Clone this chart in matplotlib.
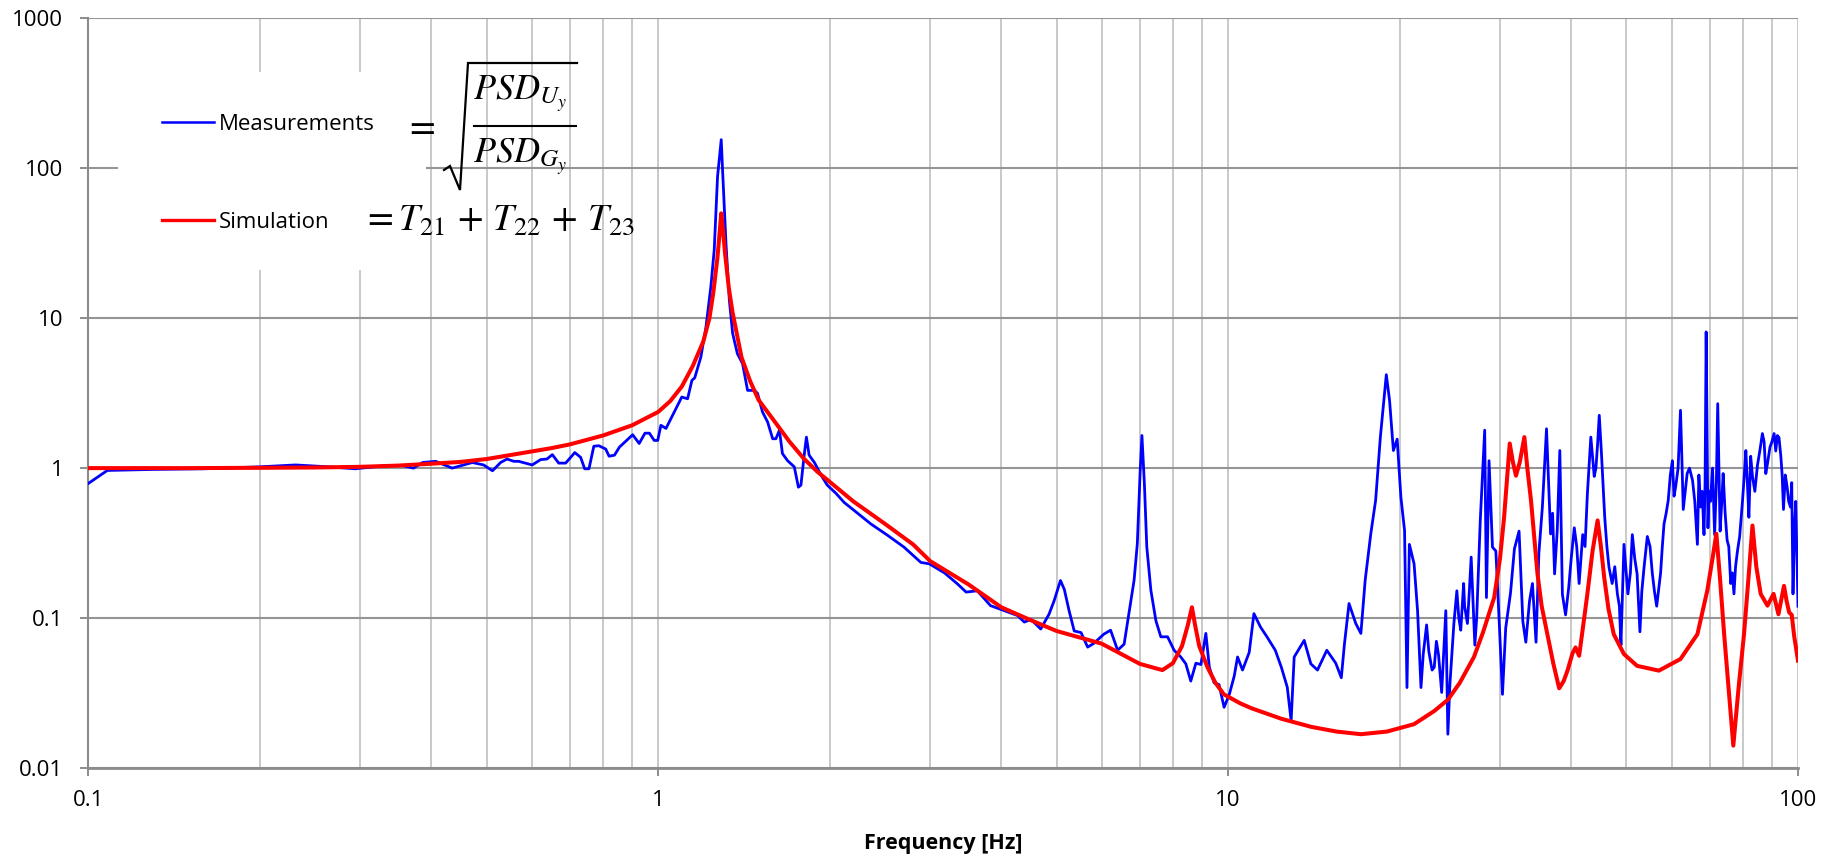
import matplotlib
matplotlib.use("Agg")
import matplotlib.pyplot as plt
from matplotlib.lines import Line2D
from matplotlib.patches import Rectangle
from matplotlib.ticker import FixedLocator, FixedFormatter, NullLocator, NullFormatter

plt.rcParams['font.family'] = ['Open Sans', 'DejaVu Sans']
plt.rcParams['mathtext.fontset'] = 'stix'

# ---------------- data ----------------
sim_freq = [0.1, 0.15, 0.2, 0.25, 0.3, 0.35, 0.4, 0.45, 0.5, 0.57, 0.65, 0.7, 0.8, 0.9,
            1.0, 1.05, 1.1, 1.15, 1.2, 1.23, 1.25, 1.27, 1.28, 1.29, 1.30, 1.31, 1.33,
            1.35, 1.4, 1.45, 1.5, 1.6, 1.7, 1.8, 1.9, 2.0, 2.2, 2.5, 2.8, 3.0, 3.5, 4.0,
            4.5, 5.0, 6.0, 7.0, 7.5, 7.67, 8.0, 8.3, 8.5, 8.64, 8.75, 8.9, 9.2, 9.5, 9.83,
            10.5, 11.0, 12.4, 14.0, 15.5, 17.1, 19.0, 21.2, 23.0, 24.3, 25.5, 27.0, 28.0,
            29.3, 30.0, 30.5, 31.2, 31.6, 32.0, 32.5, 33.1, 33.5, 34.0, 34.9, 35.5, 36.3,
            37.2, 38.1, 38.8, 39.4, 40.2, 40.7, 41.3, 42.0, 42.7, 43.6, 44.5, 45.1, 45.7,
            46.5, 47.5, 49.5, 52.2, 57.0, 62.2, 66.6, 69.3, 70.8, 71.9, 73.0, 74.2, 75.5,
            77.0, 78.7, 80.4, 82.0, 83.2, 84.5, 86.0, 88.4, 90.6, 92.4, 94.5, 95.5, 96.5,
            97.5, 98.5, 100.0]
sim_val = [1.0, 1.0, 1.005, 1.01, 1.02, 1.04, 1.07, 1.1, 1.15, 1.25, 1.36, 1.44, 1.65, 1.93,
           2.37, 2.8, 3.5, 4.8, 7.0, 10.0, 15.0, 25.0, 35.0, 50.0, 38.0, 27.0, 16.0,
           11.0, 5.5, 3.8, 2.85, 2.05, 1.5, 1.16, 0.95, 0.81, 0.6, 0.425, 0.31, 0.24, 0.168, 0.118,
           0.097, 0.082, 0.0675, 0.0495, 0.046, 0.045, 0.05, 0.065, 0.09, 0.118, 0.09, 0.065, 0.047, 0.037, 0.031,
           0.027, 0.025, 0.0213, 0.0188, 0.0175, 0.0168, 0.0175, 0.0196, 0.024, 0.0285, 0.037, 0.055, 0.08,
           0.137, 0.25, 0.47, 1.46, 1.1, 0.89, 1.1, 1.61, 1.0, 0.61, 0.198, 0.12, 0.079,
           0.05, 0.034, 0.038, 0.0446, 0.058, 0.0637, 0.056, 0.09, 0.145, 0.28, 0.448, 0.3, 0.187,
           0.115, 0.078, 0.0575, 0.048, 0.0446, 0.0533, 0.078, 0.152, 0.25, 0.365, 0.18, 0.078, 0.035,
           0.0141, 0.035, 0.078, 0.2, 0.414, 0.22, 0.145, 0.121, 0.145, 0.106, 0.164, 0.13, 0.109,
           0.105, 0.075, 0.052]

meas_freq = [0.100, 0.108, 0.13, 0.16, 0.2, 0.231, 0.264, 0.294, 0.333, 0.356, 0.372, 0.386,
             0.407, 0.435, 0.472, 0.494, 0.512, 0.529, 0.543, 0.558, 0.569, 0.601, 0.622, 0.638,
             0.652, 0.669, 0.688, 0.714, 0.731, 0.743, 0.756, 0.771, 0.787, 0.809, 0.82, 0.838,
             0.855, 0.902, 0.926, 0.948, 0.965, 0.984, 0.998, 1.011, 1.032, 1.06, 1.10, 1.126,
             1.146, 1.159, 1.188, 1.213, 1.237, 1.254, 1.271, 1.29, 1.297, 1.315, 1.333, 1.351,
             1.377, 1.406, 1.435, 1.475, 1.494, 1.524, 1.556, 1.588, 1.609, 1.632, 1.652, 1.687,
             1.733, 1.762, 1.78, 1.805, 1.82, 1.84, 1.88, 1.93, 1.98, 2.05, 2.12, 2.21, 2.36,
             2.53, 2.70, 2.89, 2.99, 3.18, 3.35, 3.47, 3.63, 3.83, 4.05, 4.27, 4.39, 4.51, 4.69,
             4.85, 4.95, 5.08, 5.16, 5.26, 5.37, 5.52, 5.67, 5.82, 6.05, 6.22, 6.4, 6.57, 6.71,
             6.84, 6.93, 7.01, 7.06, 7.13, 7.2, 7.32, 7.47, 7.62, 7.83, 8.04, 8.26, 8.43, 8.6,
             8.78, 8.96, 9.14, 9.27, 9.45, 9.64, 9.84, 10.05, 10.25, 10.39, 10.6, 10.89, 11.1,
             11.4, 11.7, 12.1, 12.4, 12.7, 12.9, 13.06, 13.6, 13.97, 14.35, 14.9, 15.45, 15.8,
             16.0, 16.3, 16.75, 17.1, 17.4, 17.8, 18.15, 18.5, 18.95, 19.2, 19.5, 19.8, 20.1,
             20.4, 20.6, 20.8, 21.2, 21.5, 21.8, 22.0, 22.3, 22.5, 22.8, 23.0, 23.2, 23.4, 23.7,
             24.1, 24.3, 24.5, 24.9, 25.2, 25.4, 25.6, 25.9, 26.0, 26.3, 26.5, 26.7, 27.1, 27.3,
             27.5, 27.7, 28.2, 28.4, 28.7, 29.1, 29.5, 29.9, 30.3, 30.7, 31.3, 31.8, 32.4, 32.9,
             33.3, 33.8, 34.2, 34.7, 35.1, 35.6, 36.2, 36.5, 36.8, 37.1, 37.4, 37.8, 38.2, 38.6,
             39.1, 39.6, 40.0, 40.5, 40.9, 41.3, 41.9, 42.3, 42.7, 43.3, 43.9, 44.2, 44.5, 44.8,
             45.2, 45.8, 46.2, 46.6, 47.2, 47.7, 48.2, 48.6, 48.9, 49.5, 50.3, 50.8, 51.2, 51.7,
             52.2, 52.8, 53.2, 53.7, 54.4, 55.0, 55.5, 56.0, 56.5, 57.4, 57.8, 58.2, 58.7, 59.2,
             59.7, 60.2, 60.6, 61.0, 61.6, 62.2, 62.5, 62.9, 63.4, 63.9, 64.5, 65.3, 65.9, 66.6,
             67.0, 67.5, 67.9, 68.4, 68.7, 69.0, 69.5, 69.8, 70.2, 70.8, 71.4, 71.9, 72.3, 72.7,
             73.0, 73.5, 73.9, 74.5, 75.1, 75.6, 76.2, 76.7, 77.2, 77.7, 78.3, 79.0, 79.9, 80.5,
             81.0, 81.5, 82.0, 82.6, 83.2, 84.0, 84.9, 85.7, 86.6, 87.2, 87.8, 88.5, 89.3, 90.0,
             90.8, 91.4, 92.0, 92.6, 93.3, 93.8, 94.3, 95.0, 95.7, 96.3, 97.0, 97.5, 98.0, 98.6,
             99.1, 100.0]
meas_val = [0.79, 0.965, 0.98, 0.99, 1.02, 1.05, 1.02, 0.99, 1.04, 1.04, 1.0, 1.09,
            1.11, 1.0, 1.09, 1.05, 0.96, 1.09, 1.15, 1.11, 1.11, 1.05, 1.14, 1.15,
            1.23, 1.08, 1.08, 1.27, 1.18, 0.99, 0.99, 1.40, 1.41, 1.34, 1.2, 1.22,
            1.38, 1.67, 1.46, 1.71, 1.71, 1.53, 1.53, 1.93, 1.84, 2.25, 2.98, 2.9,
            3.85, 4.0, 5.5, 8.75, 16.2, 28.5, 88.0, 155.0, 97.5, 31.5, 13.2, 7.9,
            5.8, 4.98, 3.3, 3.3, 3.15, 2.37, 2.03, 1.57, 1.57, 1.79, 1.25, 1.12,
            1.02, 0.746, 0.77, 1.25, 1.61, 1.22, 1.09, 0.9, 0.77, 0.68, 0.59, 0.52, 0.425,
            0.355, 0.297, 0.235, 0.23, 0.20, 0.169, 0.149, 0.152, 0.121, 0.112, 0.104, 0.094, 0.098, 0.0845,
            0.106, 0.13, 0.178, 0.155, 0.112, 0.082, 0.08, 0.064, 0.068, 0.078, 0.083, 0.061, 0.067, 0.112,
            0.179, 0.314, 0.96, 1.65, 0.79, 0.298, 0.153, 0.096, 0.075, 0.075, 0.061, 0.055, 0.0495, 0.038,
            0.05, 0.049, 0.079, 0.047, 0.037, 0.036, 0.0254, 0.031, 0.041, 0.055, 0.045, 0.059, 0.107,
            0.087, 0.075, 0.061, 0.047, 0.0346, 0.0207, 0.055, 0.071, 0.0495, 0.045, 0.061, 0.05, 0.040,
            0.067, 0.125, 0.092, 0.079, 0.179, 0.366, 0.61, 1.61, 4.2, 2.83, 1.31, 1.56, 0.64,
            0.384, 0.0344, 0.31, 0.23, 0.112, 0.0344, 0.0575, 0.09, 0.06, 0.045, 0.047, 0.07, 0.057, 0.0319,
            0.112, 0.0168, 0.036, 0.092, 0.152, 0.1, 0.083, 0.17, 0.12, 0.092, 0.15, 0.255, 0.066, 0.1,
            0.21, 0.447, 1.79, 0.137, 1.12, 0.297, 0.28, 0.095, 0.031, 0.086, 0.147, 0.29, 0.38, 0.095,
            0.069, 0.13, 0.17, 0.069, 0.27, 0.55, 1.83, 0.8, 0.364, 0.5, 0.197, 0.38, 1.31, 0.144,
            0.105, 0.16, 0.25, 0.40, 0.3, 0.17, 0.36, 0.3, 0.675, 1.61, 0.88, 1.0, 1.45, 2.25,
            1.25, 0.47, 0.3, 0.218, 0.17, 0.22, 0.145, 0.12, 0.066, 0.31, 0.145, 0.2, 0.36, 0.25,
            0.197, 0.081, 0.15, 0.22, 0.35, 0.3, 0.2, 0.15, 0.12, 0.2, 0.3, 0.425, 0.5, 0.61,
            0.9, 1.12, 0.65, 0.75, 1.0, 2.43, 1.3, 0.53, 0.7, 0.92, 1.0, 0.83, 0.6, 0.31,
            0.9, 0.55, 0.7, 0.36, 0.8, 8.1, 0.4, 0.7, 0.6, 1.0, 0.36, 0.8, 2.69, 0.9,
            0.38, 0.6, 0.92, 0.5, 0.33, 0.3, 0.17, 0.2, 0.145, 0.22, 0.28, 0.35, 0.6, 0.9,
            1.31, 0.8, 0.47, 1.2, 0.88, 0.7, 1.05, 1.3, 1.7, 1.5, 0.92, 1.1, 1.38, 1.5,
            1.7, 1.3, 1.65, 1.6, 1.2, 0.9, 0.53, 0.9, 0.75, 0.6, 0.55, 0.8, 0.145, 0.4,
            0.6, 0.12]

x_ticks = [0.1, 1, 10, 100]
x_tick_labels = ["0.1", "1", "10", "100"]
y_ticks = [0.01, 0.1, 1, 10, 100, 1000]
y_tick_labels = ["0.01", "0.1", "1", "10", "100", "1000"]
x_label = "Frequency [Hz]"
legend_labels = ["Measurements", "Simulation"]

# ---------------- figure ----------------
W, H = 1822, 858


def fx(x):
    return x / W


def fy(y):
    return 1 - y / H


fig = plt.figure(figsize=(W / 100, H / 100), dpi=100)
ax = fig.add_axes([fx(88.3), fy(768), (1798 - 88.3) / W, (768 - 18.3) / H])
ax.set_xscale('log')
ax.set_yscale('log')

ax.plot(meas_freq, meas_val, color='#0000ff', lw=2.0, zorder=3, solid_joinstyle='round')
ax.plot(sim_freq, sim_val, color='#ff0000', lw=2.9, zorder=4, solid_joinstyle='round')

ax.set_xlim(0.1, 100)
ax.set_ylim(0.01, 1000)

minor_x = [m * d for d in (0.1, 1, 10) for m in range(2, 10)]
ax.xaxis.set_major_locator(FixedLocator(x_ticks))
ax.xaxis.set_major_formatter(FixedFormatter(x_tick_labels))
ax.xaxis.set_minor_locator(FixedLocator(minor_x))
ax.xaxis.set_minor_formatter(NullFormatter())
ax.yaxis.set_major_locator(FixedLocator(y_ticks))
ax.yaxis.set_major_formatter(FixedFormatter(y_tick_labels))
ax.yaxis.set_minor_locator(NullLocator())

ax.set_axisbelow(True)
ax.grid(which='both', axis='x', color='#c0c0c0', lw=1.2)
ax.grid(which='major', axis='y', color='#959595', lw=1.5)

for s in ('top', 'right'):
    ax.spines[s].set_visible(False)
ax.spines['left'].set_color('#8c8c8c')
ax.spines['left'].set_linewidth(1.5)
ax.spines['bottom'].set_color('#8c8c8c')
ax.spines['bottom'].set_linewidth(2.0)

ax.tick_params(axis='both', which='major', length=6, width=1.4, color='#8c8c8c',
               labelsize=16, labelcolor='black')
ax.tick_params(axis='y', which='major', pad=12)
ax.tick_params(axis='x', which='major', pad=10)
ax.tick_params(axis='x', which='minor', length=0)

ax.set_xlabel(x_label, fontsize=15.5, fontweight='bold', labelpad=16)

# white legend box (covers gridlines)
fig.add_artist(Rectangle((fx(118), fy(270)), 308 / W, 198 / H, transform=fig.transFigure,
                         facecolor='white', edgecolor='none', zorder=1.5))

# legend line samples and labels
fig.add_artist(Line2D([fx(161.7), fx(214)], [fy(122.3)] * 2, transform=fig.transFigure,
                      color='#0000ff', lw=1.8, zorder=2))
fig.add_artist(Line2D([fx(161.7), fx(214)], [fy(220)] * 2, transform=fig.transFigure,
                      color='#ff0000', lw=2.4, zorder=2))
fig.text(fx(219), fy(130), legend_labels[0], fontsize=16, va='baseline', ha='left', zorder=3)
fig.text(fx(219), fy(228), legend_labels[1], fontsize=16, va='baseline', ha='left', zorder=3)

# formula for measurements: = sqrt(PSD_Uy / PSD_Gy), built from parts
fig.text(fx(420), fy(127), r'$=$', fontsize=27, ha='center', va='center', zorder=3)
fig.text(fx(473), fy(100), r'$PSD_{U_y}$', fontsize=26, ha='left', va='baseline', zorder=3)
fig.text(fx(473), fy(163), r'$PSD_{G_y}$', fontsize=26, ha='left', va='baseline', zorder=3)
fig.add_artist(Line2D([fx(474), fx(576)], [fy(126)] * 2, transform=fig.transFigure,
                      color='black', lw=1.5, zorder=3))
fig.add_artist(Line2D([fx(444), fx(450), fx(460), fx(468), fx(577)],
                      [fy(170), fy(166), fy(190), fy(63), fy(63)],
                      transform=fig.transFigure, color='black', lw=1.6, zorder=3,
                      solid_joinstyle='miter'))

# formula for simulation
fig.text(fx(362), fy(230), r'$=T_{21}\,+\,T_{22}\,+\,T_{23}$', fontsize=27,
         ha='left', va='baseline', zorder=3)

fig.savefig('out.png', dpi=100)
